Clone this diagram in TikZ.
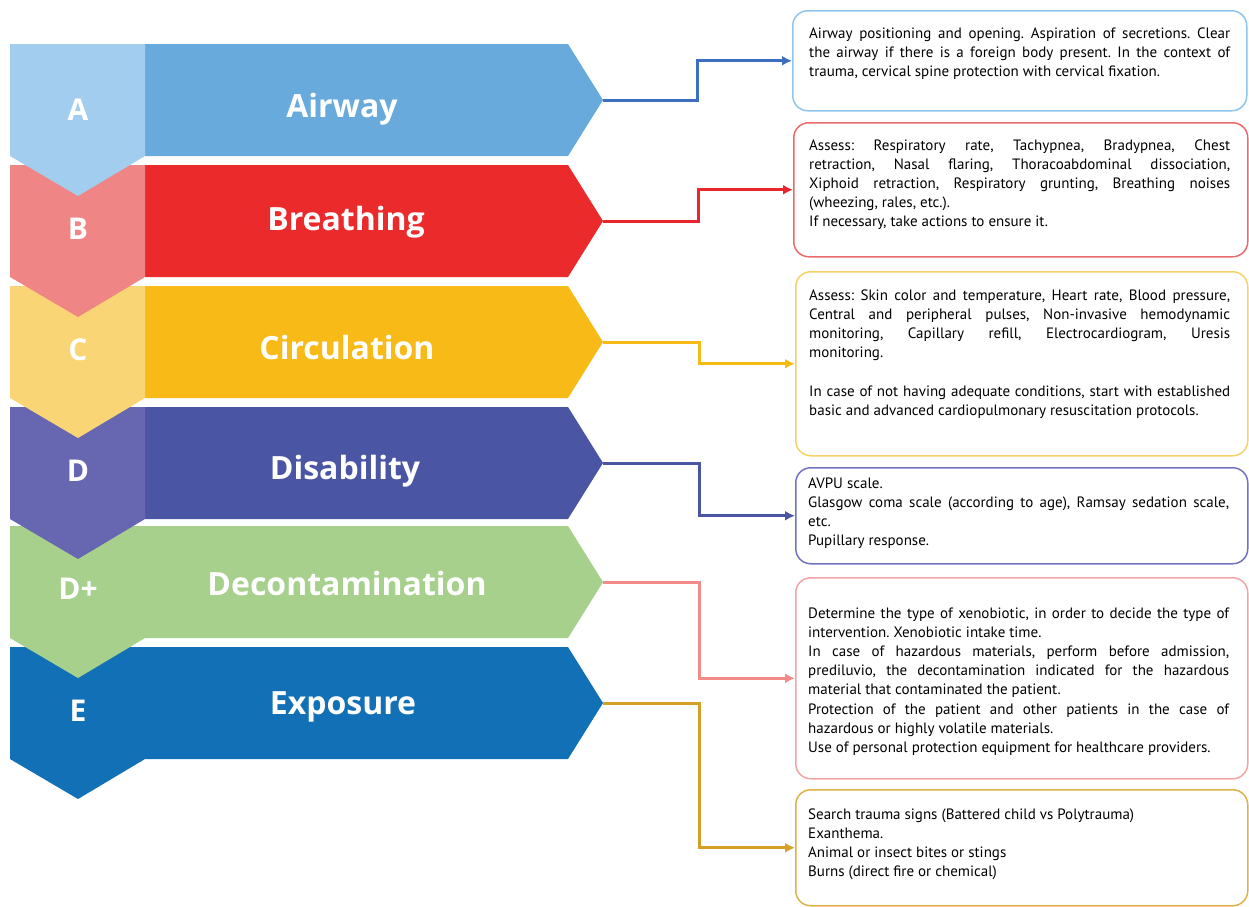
\documentclass[tikz,border=0pt]{standalone}
\usepackage{fontspec}
\setmainfont{PT Sans}
\newfontfamily\labelfont{Open Sans}
\usepackage{xcolor}
\usepackage{tikz}
\usetikzlibrary{arrows.meta,calc}

\definecolor{airLight}{HTML}{A3CDEE}
\definecolor{airMain}{HTML}{68AADB}
\definecolor{airLink}{HTML}{3E6EC0}
\definecolor{airEdge}{HTML}{8FC4EC}
\definecolor{breLight}{HTML}{F08585}
\definecolor{breMain}{HTML}{EB2A2C}
\definecolor{breLink}{HTML}{E8262B}
\definecolor{breEdge}{HTML}{EB6A6C}
\definecolor{cirLight}{HTML}{FAD576}
\definecolor{cirMain}{HTML}{F7BA16}
\definecolor{cirLink}{HTML}{F6BA17}
\definecolor{cirEdge}{HTML}{F8D165}
\definecolor{disLight}{HTML}{6766B0}
\definecolor{disMain}{HTML}{4A55A3}
\definecolor{disLink}{HTML}{4A55A3}
\definecolor{disEdge}{HTML}{7272BE}
\definecolor{decMain}{HTML}{A6D08B}
\definecolor{decLink}{HTML}{F28A8A}
\definecolor{decEdge}{HTML}{F2A4A4}
\definecolor{expMain}{HTML}{1170B6}
\definecolor{expLink}{HTML}{D6A028}
\definecolor{expEdge}{HTML}{DDB246}

\begin{document}
\frenchspacing
\begin{tikzpicture}[x=1pt, y=-1pt,
    letter/.style={text=white, inner sep=0pt, anchor=base, font=\labelfont\fontsize{30}{30}\selectfont\bfseries},
    stage/.style={text=white, inner sep=0pt, anchor=base, font=\labelfont\fontsize{32}{32}\selectfont\bfseries},
    infobox/.style={rectangle, draw, rounded corners=15pt, line width=1.5pt, inner sep=0pt, minimum width=452pt, anchor=north west},
    infotext/.style={text width=421pt, align=justify, inner sep=0pt, anchor=base west, font=\fontsize{15}{19.2}\selectfont},
    link/.style={line width=3pt, -{Latex[length=10pt,width=10pt]}}]
    \useasboundingbox (0,0) rectangle (1249,906);

    % bands, drawn from the bottom up
    \fill[expMain] (10,647) -- (568,647) -- (603,703) -- (568,759) -- (145,759) -- (78,799) -- (10,759) -- cycle;
    \fill[decMain] (10,526) -- (568,526) -- (603,582) -- (568,638) -- (145,638) -- (78,678) -- (10,638) -- cycle;
    \fill[disMain] (145,407) -- (568,407) -- (603,463) -- (568,519) -- (145,519) -- cycle;
    \fill[disLight] (10,407) -- (145,407) -- (145,519) -- (78,559) -- (10,519) -- cycle;
    \fill[cirMain] (145,286) -- (568,286) -- (603,342) -- (568,398) -- (145,398) -- cycle;
    \fill[cirLight] (10,286) -- (145,286) -- (145,398) -- (78,438) -- (10,398) -- cycle;
    \fill[breMain] (145,165) -- (568,165) -- (603,221) -- (568,277) -- (145,277) -- cycle;
    \fill[breLight] (10,165) -- (145,165) -- (145,277) -- (78,317) -- (10,277) -- cycle;
    \fill[airMain] (145,44) -- (568,44) -- (603,100) -- (568,156) -- (145,156) -- cycle;
    \fill[airLight] (10,44) -- (145,44) -- (145,156) -- (78,196) -- (10,156) -- cycle;

    \coordinate (tipA) at (603,100);
    \coordinate (tipB) at (603,221);
    \coordinate (tipC) at (603,342);
    \coordinate (tipD) at (603,463);
    \coordinate (tipDp) at (603,582);
    \coordinate (tipE) at (603,703);

    \node (letA) [letter] at (78,120) {A};
    \node (letB) [letter] at (78,239) {B};
    \node (letC) [letter] at (78,360) {C};
    \node (letD) [letter] at (78,481) {D};
    \node (letDp) [letter] at (78,599) {D+};
    \node (letE) [letter] at (78,721) {E};

    \node (stageA) [stage] at (342,117) {Airway};
    \node (stageB) [stage] at (346,230) {Breathing};
    \node (stageC) [stage] at (347,359) {Circulation};
    \node (stageD) [stage] at (345,479) {Disability};
    \node (stageDp) [stage] at (347,595) {Decontamination};
    \node (stageE) [stage] at (343,714) {Exposure};

    % boxes on the right
    \node (boxA) [infobox, draw=airEdge, minimum width=454pt, minimum height=100pt] at (792,10) {};
    \node (boxB) [infobox, draw=breEdge, minimum width=454pt, minimum height=134pt] at (793,122) {};
    \node (boxC) [infobox, draw=cirEdge, minimum height=184pt] at (795,271) {};
    \node (boxD) [infobox, draw=disEdge, minimum height=96pt] at (795,467) {};
    \node (boxDp) [infobox, draw=decEdge, minimum height=201pt] at (795,577) {};
    \node (boxE) [infobox, draw=expEdge, minimum height=116pt] at (795,789) {};

    \node (txtA) [infotext] at (809,38) {Airway positioning and opening. Aspiration of secretions. Clear\linebreak the airway if there is a foreign body present. In the context of\linebreak trauma, cervical spine protection with cervical fixation.};
    \node (txtB) [infotext] at (809,150) {Assess: Respiratory rate, Tachypnea, Bradypnea, Chest\linebreak retraction, Nasal flaring, Thoracoabdominal dissociation,\linebreak Xiphoid retraction, Respiratory grunting, Breathing noises\linebreak (wheezing, rales, etc.).\par If necessary, take actions to ensure it.};
    \node (txtC) [infotext] at (809,300) {Assess: Skin color and temperature, Heart rate, Blood pressure,\linebreak Central and peripheral pulses, Non-invasive hemodynamic\linebreak monitoring, Capillary refill, Electrocardiogram, Uresis\linebreak monitoring.\par\vspace{19.2pt}In case of not having adequate conditions, start with established\linebreak basic and advanced cardiopulmonary resuscitation protocols.};
    \node (txtD) [infotext] at (808,488) {AVPU scale.\par Glasgow coma scale (according to age), Ramsay sedation scale,\linebreak etc.\par Pupillary response.};
    \node (txtDp) [infotext] at (808,618) {Determine the type of xenobiotic, in order to decide the type of\linebreak intervention. Xenobiotic intake time.\par In case of hazardous materials, perform before admission,\linebreak prediluvio, the decontamination indicated for the hazardous\linebreak material that contaminated the patient.\par Protection of the patient and other patients in the case of\linebreak hazardous or highly volatile materials.\par Use of personal protection equipment for healthcare providers.};
    \node (txtE) [infotext] at (808,819) {Search trauma signs (Battered child vs Polytrauma)\par Exanthema.\par Animal or insect bites or stings\par Burns (direct fire or chemical)};

    % connectors
    \draw[link, airLink] (tipA) -| ($(tipA)!0.5!(boxA.west)$) |- (boxA.west);
    \draw[link, breLink] (tipB) -| ($(tipB)!0.5!(boxB.west)$) |- (boxB.west);
    \draw[link, cirLink] (tipC) -| ($(tipC)!0.5!(boxC.west)$) |- (boxC.west);
    \draw[link, disLink] (tipD) -| ($(tipD)!0.5!(boxD.west)$) |- (boxD.west);
    \draw[link, decLink] (tipDp) -| ($(tipDp)!0.5!(boxDp.west)$) |- (boxDp.west);
    \draw[link, expLink] (tipE) -| ($(tipE)!0.5!(boxE.west)$) |- (boxE.west);
\end{tikzpicture}
\end{document}
